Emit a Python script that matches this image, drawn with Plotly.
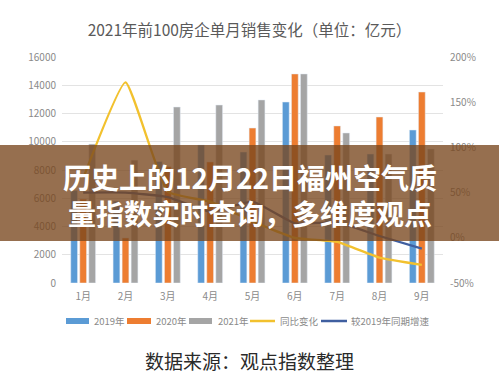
import plotly.graph_objects as go

months = ["1月", "2月", "3月", "4月", "5月", "6月", "7月", "8月", "9月"]
sales_2019 = [6560, 5800, 8600, 9770, 9270, 12810, 9060, 9130, 10830]
sales_2020 = [5940, 3190, 8240, 8570, 10970, 14800, 11120, 11750, 13520]
sales_2021 = [9840, 8700, 12460, 12600, 12960, 14800, 10620, 9130, 9490]
yoy_change = [66, 172, 51, 40, 18, 0, -4.5, -22, -30]
vs_2019 = [50, 50, 45, 29, 40, 16, 17, 2, -12]
left_ticks = [0, 2000, 4000, 6000, 8000, 10000, 12000, 14000, 16000]
right_ticks = [-50, 0, 50, 100, 150, 200]

FONT = "Noto Sans CJK SC, Noto Sans, sans-serif"
TICK = "#8a8a8a"
C19, C20, C21, CY, CB = "#5b9bd5", "#ed7d31", "#a5a5a5", "#f2c12e", "#3f5fa0"

# plot area in page pixels: x 62..443, y 57..283
def px(x):
    return (x - 62) / 381

def py(y):
    return (283 - y) / 226

fig = go.Figure()
fig.add_trace(go.Bar(x=months, y=sales_2019, name="2019年", marker_color=C19))
fig.add_trace(go.Bar(x=months, y=sales_2020, name="2020年", marker_color=C20))
fig.add_trace(go.Bar(x=months, y=sales_2021, name="2021年", marker_color=C21))
fig.add_trace(go.Scatter(x=months, y=yoy_change, name="同比变化", yaxis="y2", mode="lines",
                         line=dict(color=CY, width=2.3, shape="spline", smoothing=0.4)))
fig.add_trace(go.Scatter(x=months, y=vs_2019, name="较2019年同期增速", yaxis="y2", mode="lines",
                         line=dict(color=CB, width=2.3, shape="spline", smoothing=0.4)))

fig.update_layout(
    width=499, height=386,
    margin=dict(l=62, r=56, t=57, b=103),
    paper_bgcolor="white", plot_bgcolor="white",
    font=dict(family=FONT, color=TICK, size=10),
    barmode="group", bargap=0.36, bargroupgap=0.25,
    showlegend=False,
    title=dict(text="2021年前100房企单月销售变化（单位：亿元）", x=0.5, xanchor="center",
               y=1 - 31 / 386, yanchor="middle", font=dict(size=15.5, color="#5a5a5a", family=FONT)),
    xaxis=dict(showgrid=False, showline=False, ticks="", ticklabelstandoff=6,
               tickfont=dict(size=10, color=TICK)),
    yaxis=dict(range=[0, 16000], tickvals=left_ticks, ticktext=[str(v) for v in left_ticks],
               gridcolor="#e3e3e3", gridwidth=1, zeroline=False, showline=False,
               ticklabelstandoff=5, tickfont=dict(size=10, color=TICK)),
    yaxis2=dict(range=[-50, 200], overlaying="y", side="right", tickvals=right_ticks,
                ticktext=[f"{v}%" for v in right_ticks], showgrid=False, zeroline=False,
                showline=False, ticklabelstandoff=6, tickfont=dict(size=10, color=TICK)),
)

# custom legend
legend_items = [
    ("rect", C19, 66, 89, "2019年", 92),
    ("rect", C20, 127, 151, "2020年", 154),
    ("rect", C21, 189, 212, "2021年", 216),
    ("line", CY, 250, 275, "同比变化", 278),
    ("line", CB, 321, 347, "较2019年同期增速", 349),
]
for kind, color, a, b, label, tx in legend_items:
    if kind == "rect":
        fig.add_shape(type="rect", xref="paper", yref="paper", x0=px(a), x1=px(b),
                      y0=py(324), y1=py(318), fillcolor=color, line=dict(width=0))
    else:
        fig.add_shape(type="line", xref="paper", yref="paper", x0=px(a), x1=px(b),
                      y0=py(321), y1=py(321), line=dict(color=color, width=2.5))
    fig.add_annotation(text=label, xref="paper", yref="paper", x=px(tx), y=py(321),
                       xanchor="left", yanchor="middle", showarrow=False,
                       font=dict(size=9.5, color=TICK, family=FONT))

# overlay banner
fig.add_shape(type="rect", xref="paper", yref="paper",
              x0=px(-2), x1=px(501), y0=py(241), y1=py(145),
              fillcolor="rgba(120,70,30,0.78)", line=dict(width=0), layer="above")
fig.add_annotation(text="历史上的12月22日福州空气质<br>量指数实时查询，多维度观点",
                   xref="paper", yref="paper", align="center",
                   x=px(250), y=py(195), xanchor="center", yanchor="middle", showarrow=False,
                   font=dict(size=28, color="white", family=FONT, weight="bold"))
fig.add_annotation(text="数据来源：观点指数整理", xref="paper", yref="paper",
                   x=px(249), y=py(360), xanchor="center", yanchor="middle", showarrow=False,
                   font=dict(size=19, color="#2a2a2a", family=FONT))

fig.write_html("out.html", config={"displayModeBar": False},
               post_script="document.body.style.margin='0';document.body.style.padding='0';")
